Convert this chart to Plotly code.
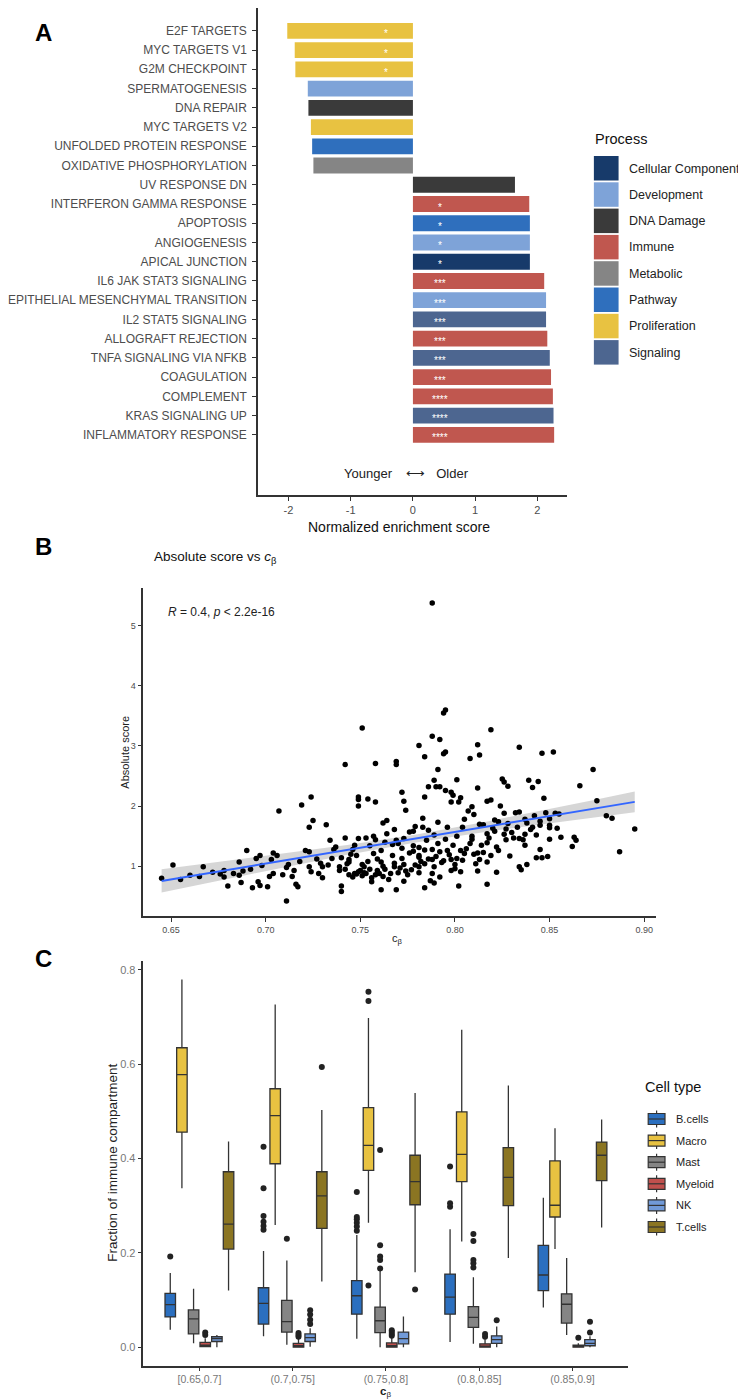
import numpy as np
import plotly.graph_objects as go

# The page body has an 8 px margin: the figure is sized/positioned to compensate.
PAGE_W, PAGE_H, OFF = 746, 1399, 8
W, H = PAGE_W - OFF, PAGE_H - OFF
def px(x): return (x - OFF) / W
def py(y): return 1 - (y - OFF) / H

FONT = "Liberation Sans, Arial, sans-serif"
AX = "#333333"
TXT = "#4d4d4d"

# ---------------- Panel A data ----------------
pathways = ["E2F TARGETS", "MYC TARGETS V1", "G2M CHECKPOINT", "SPERMATOGENESIS", "DNA REPAIR",
            "MYC TARGETS V2", "UNFOLDED PROTEIN RESPONSE", "OXIDATIVE PHOSPHORYLATION", "UV RESPONSE DN",
            "INTERFERON GAMMA RESPONSE", "APOPTOSIS", "ANGIOGENESIS", "APICAL JUNCTION",
            "IL6 JAK STAT3 SIGNALING", "EPITHELIAL MESENCHYMAL TRANSITION", "IL2 STAT5 SIGNALING",
            "ALLOGRAFT REJECTION", "TNFA SIGNALING VIA NFKB", "COAGULATION", "COMPLEMENT",
            "KRAS SIGNALING UP", "INFLAMMATORY RESPONSE"]
nes = [-2.02, -1.90, -1.89, -1.69, -1.68, -1.64, -1.62, -1.60, 1.64, 1.87, 1.88, 1.88, 1.88,
       2.11, 2.14, 2.14, 2.16, 2.20, 2.22, 2.25, 2.26, 2.27]
process = ["Proliferation", "Proliferation", "Proliferation", "Development", "DNA Damage",
           "Proliferation", "Pathway", "Metabolic", "DNA Damage", "Immune", "Pathway", "Development",
           "Cellular Component", "Immune", "Development", "Signaling", "Immune", "Signaling",
           "Immune", "Immune", "Signaling", "Immune"]
signif = ["*", "*", "*", "", "", "", "", "", "", "*", "*", "*", "*",
          "***", "***", "***", "***", "***", "***", "****", "****", "****"]
process_levels = ["Cellular Component", "Development", "DNA Damage", "Immune", "Metabolic",
                  "Pathway", "Proliferation", "Signaling"]
process_colors = ["#173a6a", "#7ea3d8", "#3a3a3a", "#c0574f", "#858585", "#2f6fbd", "#e8c241", "#4d6690"]

# ---------------- Panel B data ----------------
c_beta = [0.788, 0.795, 0.794, 0.751, 0.819, 0.788, 0.792, 0.781, 0.812, 0.834, 0.846, 0.852, 0.795, 0.794,
          0.784, 0.813, 0.808, 0.769, 0.769, 0.758, 0.742, 0.873, 0.791, 0.801, 0.825, 0.826, 0.839, 0.844,
          0.789, 0.828, 0.866, 0.786, 0.790, 0.792, 0.812, 0.841, 0.795, 0.798, 0.772, 0.799, 0.724, 0.749,
          0.749, 0.754, 0.784, 0.803, 0.819, 0.847, 0.758, 0.773, 0.802, 0.798, 0.875, 0.817, 0.719, 0.749,
          0.809, 0.824, 0.707, 0.774, 0.807, 0.826, 0.832, 0.834, 0.848, 0.853, 0.855, 0.810, 0.880, 0.883,
          0.842, 0.805, 0.821, 0.783, 0.837, 0.850, 0.725, 0.723, 0.732, 0.762, 0.764, 0.823, 0.828, 0.845,
          0.845, 0.850, 0.815, 0.813, 0.768, 0.779, 0.783, 0.786, 0.791, 0.796, 0.804, 0.820, 0.833, 0.841,
          0.850, 0.854, 0.840, 0.764, 0.776, 0.778, 0.789, 0.801, 0.809, 0.817, 0.826, 0.837, 0.757, 0.742,
          0.749, 0.753, 0.758, 0.769, 0.773, 0.785, 0.795, 0.827, 0.831, 0.850, 0.856, 0.863, 0.864, 0.834,
          0.734, 0.791, 0.799, 0.808, 0.817, 0.822, 0.862, 0.778, 0.781, 0.770, 0.755, 0.747, 0.737, 0.837,
          0.736, 0.746, 0.761, 0.784, 0.788, 0.792, 0.796, 0.803, 0.815, 0.823, 0.845, 0.721, 0.723, 0.778,
          0.704, 0.706, 0.697, 0.745, 0.748, 0.757, 0.767, 0.781, 0.805, 0.810, 0.812, 0.819, 0.829, 0.887,
          0.690, 0.695, 0.703, 0.735, 0.740, 0.744, 0.772, 0.781, 0.788, 0.798, 0.804, 0.813, 0.843, 0.846,
          0.849, 0.686, 0.712, 0.729, 0.744, 0.751, 0.761, 0.768, 0.773, 0.784, 0.793, 0.800, 0.811, 0.817,
          0.838, 0.651, 0.667, 0.698, 0.711, 0.723, 0.730, 0.739, 0.752, 0.762, 0.768, 0.781, 0.789, 0.800,
          0.834, 0.645, 0.665, 0.678, 0.678, 0.683, 0.686, 0.687, 0.680, 0.693, 0.696, 0.697, 0.701, 0.702,
          0.704, 0.715, 0.714, 0.716, 0.717, 0.711, 0.724, 0.728, 0.730, 0.739, 0.740, 0.740, 0.747, 0.749,
          0.746, 0.751, 0.756, 0.760, 0.762, 0.761, 0.765, 0.769, 0.770, 0.774, 0.773, 0.777, 0.781, 0.784,
          0.787, 0.789, 0.788, 0.792, 0.798, 0.802, 0.803, 0.812, 0.817, 0.822, 0.835, 0.756, 0.753, 0.748,
          0.895, 0.742, 0.744, 0.750, 0.752, 0.755, 0.758, 0.759, 0.763, 0.766, 0.771, 0.775, 0.779, 0.782,
          0.786, 0.790, 0.794, 0.797, 0.801, 0.806, 0.809, 0.814, 0.818, 0.821, 0.827, 0.830, 0.836, 0.838,
          0.843, 0.776, 0.772, 0.767, 0.763, 0.759, 0.754, 0.743, 0.733, 0.727, 0.718, 0.709, 0.692, 0.688,
          0.676, 0.672, 0.660, 0.655]
abs_score = [5.38, 3.60, 3.55, 3.30, 3.27, 3.16, 3.11, 3.01, 3.02, 2.98, 2.88, 2.90, 2.90, 2.87,
             2.82, 2.85, 2.79, 2.74, 2.69, 2.71, 2.69, 2.61, 2.61, 2.44, 2.45, 2.40, 2.43, 2.41,
             2.43, 2.33, 2.34, 2.32, 2.32, 2.32, 2.30, 2.31, 2.26, 2.23, 2.23, 2.18, 2.15, 2.15,
             2.11, 2.12, 2.15, 2.14, 2.10, 2.13, 2.07, 2.08, 2.07, 2.07, 2.09, 2.08, 2.02, 2.00,
             1.99, 2.00, 1.92, 1.93, 1.92, 1.88, 1.89, 1.90, 1.89, 1.88, 1.87, 1.86, 1.84, 1.80,
             1.84, 1.78, 1.77, 1.80, 1.78, 1.79, 1.76, 1.65, 1.69, 1.72, 1.76, 1.74, 1.71, 1.75,
             1.68, 1.68, 1.69, 1.70, 1.61, 1.66, 1.65, 1.60, 1.73, 1.65, 1.65, 1.63, 1.65, 1.65,
             1.64, 1.63, 1.61, 1.54, 1.57, 1.58, 1.52, 1.50, 1.50, 1.54, 1.53, 1.53, 1.50, 1.47,
             1.46, 1.47, 1.44, 1.43, 1.46, 1.43, 1.45, 1.44, 1.47, 1.45, 1.48, 1.48, 1.43, 1.46,
             1.43, 1.38, 1.35, 1.38, 1.39, 1.32, 1.33, 1.34, 1.31, 1.38, 1.34, 1.35, 1.32, 1.35,
             1.28, 1.28, 1.26, 1.27, 1.28, 1.24, 1.26, 1.26, 1.23, 1.26, 1.28, 1.26, 1.24, 1.25,
             1.22, 1.18, 1.18, 1.20, 1.18, 1.21, 1.18, 1.18, 1.21, 1.20, 1.22, 1.18, 1.17, 1.24,
             1.26, 1.13, 1.11, 1.13, 1.14, 1.11, 1.13, 1.15, 1.11, 1.11, 1.10, 1.11, 1.14, 1.14,
             1.16, 1.07, 1.03, 1.05, 1.07, 1.03, 1.07, 1.05, 1.03, 1.04, 1.06, 1.03, 1.04, 1.07,
             1.03, 1.02, 0.99, 1.01, 0.98, 0.99, 0.99, 0.99, 0.99, 1.00, 0.99, 0.99, 0.99, 0.96,
             0.99, 0.80, 0.83, 0.93, 0.82, 0.88, 0.85, 0.73, 0.67, 0.64, 0.74, 0.68, 0.66, 0.83,
             0.88, 0.93, 0.83, 0.70, 0.66, 0.42, 0.91, 0.88, 0.81, 0.93, 0.67, 0.58, 0.88, 0.91,
             0.82, 0.84, 0.81, 0.88, 0.83, 0.61, 0.78, 0.61, 0.89, 0.92, 0.75, 0.94, 0.89, 0.64,
             0.76, 0.72, 0.88, 0.82, 0.93, 0.67, 0.91, 0.92, 0.70, 0.90, 0.94, 0.74, 0.88, 0.87,
             1.62, 0.95, 0.86, 0.93, 0.89, 0.95, 0.86, 0.93, 0.95, 0.88, 0.97, 0.86, 1.02, 1.08,
             1.12, 1.16, 1.09, 1.19, 1.13, 1.29, 1.45, 1.35, 1.47, 1.58, 1.62, 1.56, 1.44, 1.72,
             1.52, 1.22, 1.30, 1.36, 1.40, 1.12, 1.08, 1.04, 1.02, 1.12, 1.08, 0.86, 0.95, 0.92,
             0.87, 0.90, 0.85, 0.78]
b_xticks = [0.65, 0.70, 0.75, 0.80, 0.85, 0.90]
b_yticks = [1, 2, 3, 4, 5]

# ---------------- Panel C data ----------------
bins = ["[0.65,0.7]", "(0.7,0.75]", "(0.75,0.8]", "(0.8,0.85]", "(0.85,0.9]"]
cell_types = ["B.cells", "Macro", "Mast", "Myeloid", "NK", "T.cells"]
cell_colors = ["#2b6fbf", "#e8c241", "#858585", "#c0504d", "#719ad8", "#8b7522"]
q1 = {"B.cells": [0.064, 0.049, 0.070, 0.070, 0.120],
      "Macro": [0.456, 0.389, 0.375, 0.351, 0.276],
      "Mast": [0.028, 0.032, 0.031, 0.042, 0.051],
      "Myeloid": [0.001, 0.000, 0.000, 0.000, 0.000],
      "NK": [0.012, 0.012, 0.007, 0.008, 0.003],
      "T.cells": [0.208, 0.252, 0.302, 0.300, 0.353]}
median = {"B.cells": [0.090, 0.093, 0.109, 0.106, 0.153],
          "Macro": [0.578, 0.491, 0.428, 0.409, 0.301],
          "Mast": [0.060, 0.054, 0.056, 0.063, 0.091],
          "Myeloid": [0.004, 0.003, 0.003, 0.002, 0.001],
          "NK": [0.018, 0.020, 0.018, 0.016, 0.008],
          "T.cells": [0.261, 0.321, 0.351, 0.360, 0.407]}
q3 = {"B.cells": [0.114, 0.126, 0.141, 0.155, 0.216],
      "Macro": [0.635, 0.548, 0.508, 0.499, 0.395],
      "Mast": [0.079, 0.099, 0.085, 0.086, 0.113],
      "Myeloid": [0.010, 0.008, 0.009, 0.007, 0.004],
      "NK": [0.022, 0.028, 0.032, 0.024, 0.016],
      "T.cells": [0.372, 0.372, 0.407, 0.423, 0.435]}
lower = {"B.cells": [0.037, 0.023, 0.018, 0.011, 0.084],
         "Macro": [0.337, 0.259, 0.264, 0.224, 0.208],
         "Mast": [0.008, 0.005, 0.000, 0.007, 0.026],
         "Myeloid": [0.0, 0.0, 0.0, 0.0, 0.0],
         "NK": [0.000, 0.001, 0.000, 0.000, 0.000],
         "T.cells": [0.120, 0.139, 0.159, 0.189, 0.254]}
upper = {"B.cells": [0.157, 0.204, 0.238, 0.250, 0.317],
         "Macro": [0.780, 0.727, 0.698, 0.673, 0.464],
         "Mast": [0.124, 0.184, 0.162, 0.148, 0.189],
         "Myeloid": [0.019, 0.018, 0.020, 0.017, 0.008],
         "NK": [0.026, 0.040, 0.065, 0.044, 0.023],
         "T.cells": [0.436, 0.503, 0.539, 0.555, 0.483]}
outlier_bin = {"B.cells": [0, 1, 1, 1, 1, 1, 1, 2, 2, 2, 2, 2, 2, 3, 3, 3],
               "Macro": [2, 2, 2],
               "Mast": [1, 2, 2, 2, 2, 2, 3, 3, 3, 3, 3],
               "Myeloid": [0, 0, 1, 1, 1, 2, 2, 2, 2, 3, 3, 4],
               "NK": [1, 1, 1, 1, 3, 4, 4],
               "T.cells": [1, 2]}
outlier_val = {"B.cells": [0.192, 0.249, 0.257, 0.266, 0.278, 0.337, 0.425, 0.247, 0.256, 0.264, 0.271,
                           0.276, 0.329, 0.298, 0.305, 0.383],
               "Macro": [0.734, 0.754, 0.131],
               "Mast": [0.230, 0.167, 0.185, 0.192, 0.216, 0.418, 0.169, 0.178, 0.185, 0.225, 0.240],
               "Myeloid": [0.026, 0.031, 0.022, 0.026, 0.030, 0.024, 0.028, 0.032, 0.036, 0.022, 0.028, 0.020],
               "NK": [0.049, 0.058, 0.069, 0.078, 0.057, 0.031, 0.054],
               "T.cells": [0.594, 0.122]}
c_yticks = [0.0, 0.2, 0.4, 0.6, 0.8]

fig = go.Figure()

# ---------------- Panel A ----------------
n = len(pathways)
ypos = [n - 1 - i for i in range(n)]
cmap = dict(zip(process_levels, process_colors))
fig.add_trace(go.Bar(x=nes, y=ypos, orientation="h", width=0.82,
                     marker=dict(color=[cmap[p] for p in process], line=dict(width=0)),
                     xaxis="x", yaxis="y", showlegend=False))
annotations = []
for v, yv, s in zip(nes, ypos, signif):
    if s:
        annotations.append(dict(x=0.44 if v > 0 else -0.44, y=yv, xref="x", yref="y", text=s,
                                showarrow=False, yshift=-3, xanchor="center", yanchor="middle",
                                font=dict(family=FONT, size=10, color="white")))
annotations.append(dict(x=0, y=-2, xref="x", yref="y", text="Younger    \u27f7   Older", showarrow=False,
                        xanchor="center", yanchor="middle", xshift=-6,
                        font=dict(family=FONT, size=13, color="#222")))

# ---------------- Panel B ----------------
cb = np.array(c_beta)
ab = np.array(abs_score)
slope, intercept = np.polyfit(cb, ab, 1)
xs = np.linspace(cb.min(), cb.max(), 80)
fit = intercept + slope * xs
resid = ab - (intercept + slope * cb)
s = np.sqrt(np.sum(resid ** 2) / (len(cb) - 2))
se = s * np.sqrt(1 / len(cb) + (xs - cb.mean()) ** 2 / np.sum((cb - cb.mean()) ** 2))
fig.add_trace(go.Scatter(x=np.concatenate([xs, xs[::-1]]),
                         y=np.concatenate([fit + 1.966 * se, (fit - 1.966 * se)[::-1]]),
                         fill="toself", fillcolor="rgba(153,153,153,0.4)", line=dict(width=0),
                         mode="lines", xaxis="x2", yaxis="y2", showlegend=False, hoverinfo="skip"))
fig.add_trace(go.Scatter(x=cb, y=ab, mode="markers", marker=dict(color="black", size=5.5),
                         xaxis="x2", yaxis="y2", showlegend=False))
fig.add_trace(go.Scatter(x=xs, y=fit, mode="lines", line=dict(color="#3366FF", width=2),
                         xaxis="x2", yaxis="y2", showlegend=False))

# ---------------- Panel C ----------------
dodge = 0.75 / len(cell_types)
for k, ct in enumerate(cell_types):
    off = (k - (len(cell_types) - 1) / 2) * dodge
    xpos = [i + off for i in range(len(bins))]
    fig.add_trace(go.Box(x=xpos, q1=q1[ct], median=median[ct], q3=q3[ct],
                         lowerfence=lower[ct], upperfence=upper[ct], width=dodge * 0.9,
                         fillcolor=cell_colors[k], line=dict(color="#333333", width=1.3),
                         whiskerwidth=0, boxpoints=False, xaxis="x3", yaxis="y3",
                         showlegend=False, name=ct))
    fig.add_trace(go.Scatter(x=[b + off for b in outlier_bin[ct]], y=outlier_val[ct], mode="markers",
                             marker=dict(color="#222222", size=6), xaxis="x3", yaxis="y3",
                             showlegend=False))

# ---------------- Legends (manual) ----------------
shapes = []
for k, (lab, col) in enumerate(zip(process_levels, process_colors)):
    top = 156 + 26.3 * k
    shapes.append(dict(type="rect", xref="paper", yref="paper", x0=px(592), x1=px(617),
                       y0=py(top + 24.5), y1=py(top), fillcolor=col, line=dict(width=0)))
    annotations.append(dict(x=px(626), y=py(top + 12.5), xref="paper", yref="paper", text=lab,
                            showarrow=False, xanchor="left", yanchor="middle",
                            font=dict(family=FONT, size=12.5, color="#222")))
annotations.append(dict(x=px(591), y=py(139), xref="paper", yref="paper", text="Process",
                        showarrow=False, xanchor="left", yanchor="middle",
                        font=dict(family=FONT, size=14.5, color="#111")))

for k, (lab, col) in enumerate(zip(cell_types, cell_colors)):
    cy = 1119 + 21.6 * k
    x0, x1 = 647, 664
    xm = (x0 + x1) / 2
    shapes.append(dict(type="line", xref="paper", yref="paper", x0=px(xm), x1=px(xm),
                       y0=py(cy - 8.5), y1=py(cy + 8.5), line=dict(color="#333", width=1.2)))
    shapes.append(dict(type="rect", xref="paper", yref="paper", x0=px(x0), x1=px(x1),
                       y0=py(cy + 5.5), y1=py(cy - 5.5), fillcolor=col, line=dict(color="#333", width=1.2)))
    shapes.append(dict(type="line", xref="paper", yref="paper", x0=px(x0), x1=px(x1),
                       y0=py(cy), y1=py(cy), line=dict(color="#333", width=1.2)))
    annotations.append(dict(x=px(673), y=py(cy), xref="paper", yref="paper", text=lab,
                            showarrow=False, xanchor="left", yanchor="middle",
                            font=dict(family=FONT, size=11, color="#222")))
annotations.append(dict(x=px(642), y=py(1087), xref="paper", yref="paper", text="Cell type",
                        showarrow=False, xanchor="left", yanchor="middle",
                        font=dict(family=FONT, size=14.5, color="#111")))

# ---------------- Titles / labels ----------------
for lab, yy in [("A", 33), ("B", 546), ("C", 958)]:
    annotations.append(dict(x=px(24), y=py(yy), xref="paper", yref="paper", text="<b>%s</b>" % lab,
                            showarrow=False, xanchor="left", yanchor="middle",
                            font=dict(family=FONT, size=24, color="black")))
annotations += [
    dict(x=px(395), y=py(527), xref="paper", yref="paper", text="Normalized enrichment score",
         showarrow=False, xanchor="center", yanchor="middle", font=dict(family=FONT, size=14, color="#111")),
    dict(x=px(145), y=py(557), xref="paper", yref="paper", text="Absolute score vs <i>c</i><sub>β</sub>",
         showarrow=False, xanchor="left", yanchor="middle", font=dict(family=FONT, size=13.5, color="#111")),
    dict(x=0.6474, y=5.23, xref="x2", yref="y2", text="<i>R</i> = 0.4, <i>p</i> &lt; 2.2e-16",
         showarrow=False, xanchor="left", yanchor="middle", font=dict(family=FONT, size=12, color="#222")),
    dict(x=px(117), y=py(752), xref="paper", yref="paper", text="Absolute score", textangle=-90,
         showarrow=False, xanchor="center", yanchor="middle", font=dict(family=FONT, size=11, color="#222")),
    dict(x=px(393), y=py(939), xref="paper", yref="paper", text="c<sub>β</sub>",
         showarrow=False, xanchor="center", yanchor="middle", font=dict(family=FONT, size=11, color="#222")),
    dict(x=px(104), y=py(1163), xref="paper", yref="paper", text="Fraction of immune compartment",
         textangle=-90, showarrow=False, xanchor="center", yanchor="middle",
         font=dict(family=FONT, size=13.5, color="#222")),
    dict(x=px(381), y=py(1392), xref="paper", yref="paper", text="<b>c</b><sub>β</sub>",
         showarrow=False, xanchor="center", yanchor="middle", font=dict(family=FONT, size=11.5, color="#222")),
]

axis_common = dict(showline=True, linecolor=AX, linewidth=1.5, ticks="outside", tickcolor=AX,
                   ticklen=4, tickwidth=1.2, showgrid=False, zeroline=False)
axis_c = dict(axis_common, ticklen=3)

fig.update_layout(
    width=W, height=H, margin=dict(l=0, r=0, t=0, b=0),
    paper_bgcolor="white", plot_bgcolor="white", showlegend=False,
    font=dict(family=FONT),
    xaxis=dict(domain=[px(252), px(565)], range=[-2.49, 2.48], anchor="y",
               tickvals=[-2, -1, 0, 1, 2], ticktext=["-2", "-1", "0", "1", "2"],
               tickfont=dict(size=11, color=TXT), **axis_common),
    yaxis=dict(domain=[py(495), py(OFF)], range=[-3.12, 22.6 - OFF / 19.24], anchor="x",
               tickvals=ypos, ticktext=pathways, ticklabelstandoff=3,
               tickfont=dict(size=12, color=TXT), **axis_common),
    xaxis2=dict(domain=[px(136), px(655)], range=[0.6354, 0.9063], anchor="y2",
                tickvals=b_xticks, ticktext=["%.2f" % t for t in b_xticks],
                tickfont=dict(size=9, color=TXT), **axis_common),
    yaxis2=dict(domain=[py(916), py(588)], range=[0.172, 5.628], anchor="x2",
                tickvals=b_yticks, ticktext=[str(t) for t in b_yticks],
                tickfont=dict(size=9, color=TXT), **axis_common),
    xaxis3=dict(domain=[px(136), px(627)], range=[-0.6, len(bins) - 0.4], anchor="y3",
                tickvals=list(range(len(bins))), ticktext=bins,
                tickfont=dict(size=10.5, color="#777"), **axis_c),
    yaxis3=dict(domain=[py(1366), py(961)], range=[-0.040, 0.819], anchor="x3",
                tickvals=c_yticks, ticktext=["%.1f" % t for t in c_yticks],
                tickfont=dict(size=11, color="#777"), **axis_common),
    shapes=shapes, annotations=annotations,
)

fig.write_html("out.html")
